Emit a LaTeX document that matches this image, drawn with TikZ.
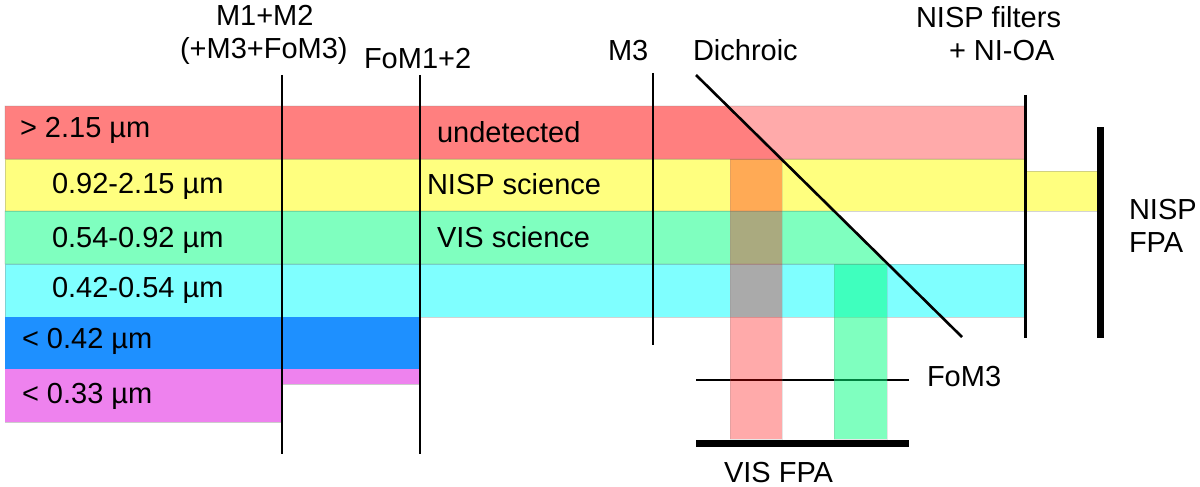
\documentclass[tikz,border=0pt]{standalone}
\usepackage{fontspec}
\setmainfont{Liberation Sans}
\tikzset{
  band/.style={draw=black!50,draw opacity=.35,line width=.6pt,fill opacity=.5,fill=#1},
  beam/.style={draw=black!50,draw opacity=.2,line width=.6pt,fill opacity=#1},
  mirror/.style={draw=black,line width=2.2pt},
  fpa/.style={draw=black,line width=7pt},
  lab/.style={anchor=base west,inner sep=0pt,outer sep=0pt,font=\fontsize{29}{32}\selectfont,text=black},
}
\definecolor{redb}{RGB}{255,0,0}
\definecolor{yellowb}{RGB}{255,255,0}
\definecolor{springg}{RGB}{0,255,127}
\definecolor{cyanb}{RGB}{0,255,255}
\definecolor{blueb}{RGB}{30,144,255}
\definecolor{violetb}{RGB}{238,130,238}
\begin{document}
\begin{tikzpicture}[x=1pt,y=-1pt]
\useasboundingbox (0,0) rectangle (1200,487);
% wavelength bands
\path[band=redb] (5,106) -- (727.5,106) -- (781,159) -- (5,159) -- cycle;
\path[band=redb,fill opacity=.333] (727.5,106) -- (1025,106) -- (1025,159) -- (781,159) -- cycle;
\path[band=yellowb] (5,159) rectangle (1025,211);
\path[band=yellowb] (1025,171) rectangle (1097,211);
\path[band=springg] (5,211) -- (834,211) -- (888,264) -- (5,264) -- cycle;
\path[band=cyanb] (5,264) rectangle (1025,317);
\path[draw=none,fill=blueb] (5,317) rectangle (420,369);
\path[draw=none,fill=violetb] (5,369) rectangle (282,422);
\path[draw=none,fill=violetb] (282,369) rectangle (420,384);
\draw[black!50,draw opacity=.4,line width=.6pt] (5,422) -- (282,422) (282,384) -- (420,384);
% FoM3 under the beams
\coordinate (fomA) at (696,380);
\coordinate (fomB) at (909,380);
\draw[black,line width=2pt] (fomA) -- (fomB);
% reflected beams
\path[beam=.333,fill=redb] (730,159) rectangle (782,439);
\path[beam=.5,fill=springg] (834,264) rectangle (887,439);
% optics
\coordinate (m1a) at (282,75);  \coordinate (m1b) at (282,454);
\coordinate (m2a) at (420,75);  \coordinate (m2b) at (420,454);
\coordinate (m3a) at (653,73);  \coordinate (m3b) at (653,345);
\coordinate (da) at (696,75);   \coordinate (db) at (962,337);
\coordinate (fa) at (1025.5,95); \coordinate (fb) at (1025.5,338);
\coordinate (na) at (1100,127); \coordinate (nb) at (1100,338);
\coordinate (va) at (696,443);  \coordinate (vb) at (909,443);
\draw[mirror] (m1a) -- (m1b);
\draw[mirror] (m2a) -- (m2b);
\draw[mirror] (m3a) -- (m3b);
\draw[mirror,line width=2.6pt] (da) -- (db);
\draw[mirror] (fa) -- (fb);
\draw[fpa] (na) -- (nb);
\draw[fpa] (va) -- (vb);
% labels
\node[lab] (t1) at (20,137) {> 2.15 µm};
\node[lab] (t2) at (52,193) {0.92-2.15 µm};
\node[lab] (t3) at (52,247) {0.54-0.92 µm};
\node[lab] (t4) at (52,297) {0.42-0.54 µm};
\node[lab] (t5) at (22,348) {< 0.42 µm};
\node[lab] (t6) at (22,403) {< 0.33 µm};
\node[lab] (u) at (437,142) {undetected};
\node[lab] (ns) at (427,194) {NISP science};
\node[lab] (vs) at (437,247) {VIS science};
\node[lab] (m12) at (216,26) {M1+M2};
\node[lab] (m12b) at (180,59) {(+M3+FoM3)};
\node[lab] (fom12) at (364,69) {FoM1+2};
\node[lab] (m3) at (608,61) {M3};
\node[lab] (dich) at (693,60) {Dichroic};
\node[lab] (nf) at (916,28) {NISP filters};
\node[lab] (no) at (949,61) {+ NI-OA};
\node[lab] (nfpa) at (1129,219) {NISP};
\node[lab] (nfpb) at (1129,252) {FPA};
\node[lab] (fom3) at (927,386) {FoM3};
\node[lab] (vfpa) at (724,482) {VIS FPA};
\end{tikzpicture}
\end{document}
